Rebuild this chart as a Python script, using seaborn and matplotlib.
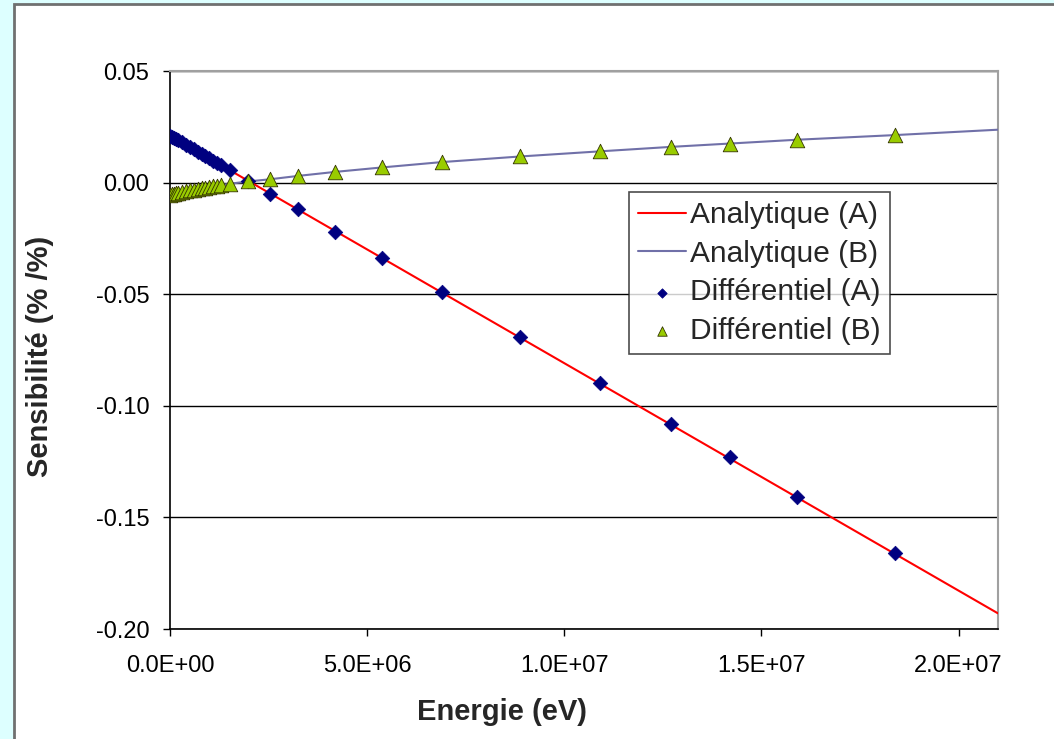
import numpy as np
import pandas as pd
import matplotlib
matplotlib.use("Agg")
import matplotlib.pyplot as plt
import seaborn as sns
from matplotlib.patches import Rectangle
from matplotlib.ticker import FuncFormatter

# energies (eV) of the differential points
energy_pts = [0.0, 0.05e6, 0.1e6, 0.15e6, 0.2e6, 0.3e6, 0.4e6, 0.5e6, 0.6e6, 0.7e6,
              0.8e6, 0.9e6, 1.0e6, 1.1e6, 1.2e6, 1.3e6, 1.52e6, 1.98e6, 2.54e6,
              3.25e6, 4.19e6, 5.38e6, 6.90e6, 8.88e6, 1.09e7, 1.27e7, 1.42e7,
              1.59e7, 1.84e7]
diff_a = [0.021, 0.0205, 0.020, 0.0195, 0.019, 0.018, 0.017, 0.016, 0.015, 0.0139,
          0.0128, 0.0118, 0.0108, 0.0098, 0.0088, 0.0078, 0.0055, 0.0008, -0.005,
          -0.012, -0.022, -0.034, -0.049, -0.069, -0.090, -0.108, -0.123,
          -0.141, -0.166]
diff_b = [-0.0055, -0.0052, -0.0049, -0.0047, -0.0045, -0.0041, -0.0037, -0.0034, -0.0031, -0.0028,
          -0.0025, -0.0022, -0.0019, -0.0016, -0.0013, -0.0010, -0.0005, 0.0005, 0.0015,
          0.003, 0.0048, 0.0068, 0.0092, 0.0117, 0.0140, 0.0160, 0.0175,
          0.0192, 0.0213]

# analytic curves
energy_line_a = [0.0, 2.1e7]
analytique_a = [0.021, -0.193]
energy_line_b = [0.0, 0.5e6, 1.0e6, 1.52e6, 1.98e6, 2.54e6, 3.25e6, 4.19e6, 5.38e6,
                 6.90e6, 8.88e6, 1.09e7, 1.27e7, 1.42e7, 1.59e7, 1.84e7, 2.1e7]
analytique_b = [-0.0055, -0.0034, -0.0019, -0.0005, 0.0005, 0.0015, 0.003, 0.0048, 0.0068,
                0.0092, 0.0117, 0.0140, 0.0160, 0.0175, 0.0192, 0.0213, 0.0237]

y_ticks = [-0.20, -0.15, -0.10, -0.05, 0.00, 0.05]
x_ticks = [0.0, 5e6, 1e7, 1.5e7, 2e7]

sns.set_style("white")
plt.rcParams['font.family'] = ['Liberation Sans', 'DejaVu Sans']

fig = plt.figure(figsize=(10.54, 7.39), dpi=100, facecolor="#DDFFFF")
# white chart area with grey frame
fig.patches.append(Rectangle((14 / 1054, -0.05), 1.2, (735 + 37) / 739,
                             transform=fig.transFigure, facecolor="white",
                             edgecolor="#707070", lw=2, zorder=-5))
ax = fig.add_axes([170 / 1054, 1 - 629 / 739, 828 / 1054, 558 / 739])
ax.set_facecolor("white")

df_a = pd.DataFrame({"E": energy_line_a, "S": analytique_a})
df_b = pd.DataFrame({"E": energy_line_b, "S": analytique_b})
df_pts = pd.DataFrame({"E": energy_pts, "A": diff_a, "B": diff_b})

sns.lineplot(data=df_a, x="E", y="S", ax=ax, color="#FF0000", lw=1.5,
             label="Analytique (A)", zorder=3)
sns.lineplot(data=df_b, x="E", y="S", ax=ax, color="#7070A8", lw=1.5,
             label="Analytique (B)", zorder=3)
sns.scatterplot(data=df_pts, x="E", y="A", ax=ax, marker="D", s=55, color="#000080",
                edgecolor="#000080", linewidth=0.5, label="Différentiel (A)", zorder=4)
sns.scatterplot(data=df_pts, x="E", y="B", ax=ax, marker="^", s=110, color="#99CC00",
                edgecolor="#333300", linewidth=0.6, label="Différentiel (B)", zorder=5)

ax.set_xlim(0, 2.1e7)
ax.set_ylim(-0.20, 0.05)
ax.set_xticks(x_ticks)
ax.set_yticks(y_ticks)
ax.xaxis.set_major_formatter(FuncFormatter(lambda v, p: f"{v:.1E}"))
ax.yaxis.set_major_formatter(FuncFormatter(lambda v, p: f"{round(v, 2) + 0.0:.2f}"))
ax.tick_params(axis="both", direction="out", length=5, width=1, color="black",
               labelsize=17, labelcolor="black", left=True, bottom=True)
ax.tick_params(axis="y", pad=10)
ax.tick_params(axis="x", pad=14)
ax.yaxis.grid(True, color="black", lw=1)
ax.set_axisbelow(True)

for side in ["left", "bottom"]:
    ax.spines[side].set_color("black")
    ax.spines[side].set_linewidth(1.2)
for side in ["top", "right"]:
    ax.spines[side].set_color("#A0A0A0")
    ax.spines[side].set_linewidth(1.5)

ax.set_xlabel("Energie (eV)", fontsize=21, fontweight="bold", va="center")
ax.set_ylabel("Sensibilité (% /%)", fontsize=21, fontweight="bold", va="center")
ax.xaxis.set_label_coords((502 - 170) / 828, (629 - 712) / 558)
ax.yaxis.set_label_coords((40 - 170) / 828, (629 - 356) / 558)

leg = ax.legend(loc="upper left", bbox_to_anchor=((629 - 170) / 828, (629 - 192) / 558),
                borderaxespad=0, fontsize=21.5, frameon=True, fancybox=False,
                handlelength=1.6, handletextpad=0.15, labelspacing=0.36,
                borderpad=0.3, markerscale=0.65)
leg.get_frame().set_edgecolor("#202020")
leg.get_frame().set_linewidth(1.2)
leg.set_zorder(10)

fig.savefig("out.png", dpi=100, facecolor=fig.get_facecolor())
